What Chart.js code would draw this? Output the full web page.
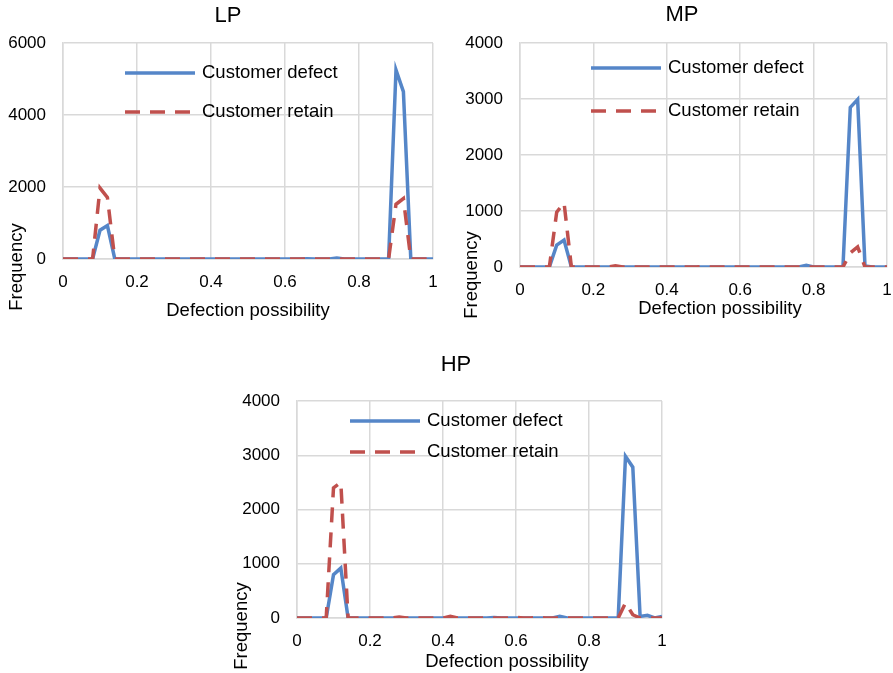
<!DOCTYPE html>
<html>
<head>
<meta charset="utf-8">
<script src="https://cdn.jsdelivr.net/npm/chart.js@4/dist/chart.umd.min.js"></script>
<style>
  body { margin: 0; background: #fff; }
  #wrap { position: relative; width: 893px; height: 673px; }
  canvas { position: absolute; }
</style>
</head>
<body>
<div id="wrap">
  <canvas id="lp" width="450" height="330" style="left:0;top:0"></canvas>
  <canvas id="mp" width="443" height="330" style="left:450px;top:0"></canvas>
  <canvas id="hp" width="450" height="328" style="left:220px;top:345px"></canvas>
</div>
<script>
// defection possibility, step 0.02
var possibility = [0, 0.02, 0.04, 0.06, 0.08, 0.1, 0.12, 0.14, 0.16, 0.18,
  0.2, 0.22, 0.24, 0.26, 0.28, 0.3, 0.32, 0.34, 0.36, 0.38,
  0.4, 0.42, 0.44, 0.46, 0.48, 0.5, 0.52, 0.54, 0.56, 0.58,
  0.6, 0.62, 0.64, 0.66, 0.68, 0.7, 0.72, 0.74, 0.76, 0.78,
  0.8, 0.82, 0.84, 0.86, 0.88, 0.9, 0.92, 0.94, 0.96, 0.98, 1];

var seriesNames = ['Customer defect', 'Customer retain'];

var lpDefect = [0, 0, 0, 0, 0, 800, 930, 0, 0, 0,
  0, 0, 0, 0, 0, 0, 0, 0, 0, 0,
  0, 0, 0, 0, 0, 0, 0, 0, 0, 0,
  0, 0, 0, 10, 0, 0, 0, 30, 0, 0,
  0, 0, 0, 0, 0, 5250, 4650, 0, 0, 0, 0];
var lpRetain = [0, 0, 0, 0, 0, 1970, 1710, 0, 0, 0,
  0, 0, 0, 0, 0, 0, 0, 0, 0, 0,
  0, 0, 0, 0, 0, 0, 0, 0, 0, 0,
  0, 0, 0, 0, 0, 0, 0, 0, 0, 0,
  0, 0, 0, 0, 0, 1520, 1680, 0, 0, 0, 0];

var mpDefect = [0, 0, 0, 0, 0, 390, 480, 0, 0, 0,
  0, 0, 0, 0, 0, 0, 0, 0, 0, 0,
  0, 0, 0, 0, 0, 0, 0, 0, 0, 0,
  0, 0, 0, 0, 0, 0, 0, 0, 0, 30,
  0, 0, 0, 0, 0, 2850, 2990, 20, 0, 0, 0];
var mpRetain = [0, 0, 0, 0, 0, 980, 1150, 0, 0, 0,
  0, 0, 0, 20, 0, 0, 0, 0, 0, 0,
  0, 0, 0, 0, 0, 10, 0, 0, 0, 0,
  0, 0, 0, 0, 0, 0, 0, 0, 0, 0,
  0, 0, 0, 0, 0, 250, 360, 0, 0, 0, 0];

var hpDefect = [0, 0, 0, 0, 0, 800, 920, 0, 0, 0,
  0, 0, 0, 0, 0, 0, 0, 0, 0, 0,
  0, 0, 0, 0, 0, 0, 0, 10, 0, 0,
  0, 0, 0, 0, 0, 0, 30, 0, 0, 0,
  0, 0, 0, 0, 0, 2980, 2780, 30, 50, 0, 30];
var hpRetain = [0, 0, 0, 0, 0, 2400, 2500, 0, 0, 0,
  0, 0, 0, 0, 20, 0, 0, 0, 0, 0,
  0, 30, 0, 0, 0, 0, 0, 0, 0, 0,
  10, 0, 0, 10, 0, 0, 0, 0, 0, 0,
  0, 0, 0, 0, 0, 280, 60, 0, 0, 0, 0];

var FONT = 'Arial, "Liberation Sans", sans-serif';
var BLUE = '#5586c8';
var RED = '#c0504d';
var GRID = '#d9d9d9';
var DASH = [15, 10];

function points(ys) {
  return possibility.map(function (x, i) { return { x: x, y: ys[i] }; });
}

// title, axis titles and the in-plot legend, placed like the Excel original
var overlay = {
  id: 'overlay',
  afterDraw: function (chart, args, o) {
    var ctx = chart.ctx;
    ctx.save();
    ctx.fillStyle = '#000';
    ctx.textAlign = 'center';
    ctx.textBaseline = 'middle';
    ctx.font = '22px ' + FONT;
    ctx.fillText(o.title, o.titleX, o.titleY);
    ctx.font = '18.5px ' + FONT;
    ctx.fillText('Defection possibility', o.xTitleX, o.xTitleY);
    ctx.save();
    ctx.translate(o.yTitleX, o.yTitleY);
    ctx.rotate(-Math.PI / 2);
    ctx.fillText('Frequency', 0, 0);
    ctx.restore();

    ctx.textAlign = 'left';
    ctx.lineWidth = 3.5;
    ctx.lineCap = 'butt';
    [[BLUE, [], o.legY1], [RED, DASH, o.legY2]].forEach(function (row, i) {
      ctx.strokeStyle = row[0];
      ctx.setLineDash(row[1]);
      ctx.beginPath();
      ctx.moveTo(o.legX, row[2]);
      ctx.lineTo(o.legX + 70, row[2]);
      ctx.stroke();
      ctx.fillText(seriesNames[i], o.legX + 77, row[2]);
    });
    ctx.restore();
  }
};

function makeChart(id, defect, retain, yMax, yStep, box, labels) {
  var canvas = document.getElementById(id);
  new Chart(canvas.getContext('2d'), {
    type: 'line',
    data: {
      datasets: [{
        label: seriesNames[0],
        data: points(defect),
        borderColor: BLUE,
        borderWidth: 3.5,
        pointRadius: 0,
        order: 1
      }, {
        label: seriesNames[1],
        data: points(retain),
        borderColor: RED,
        borderWidth: 3.5,
        borderDash: DASH,
        pointRadius: 0,
        order: 0
      }]
    },
    plugins: [overlay],
    options: {
      responsive: false,
      animation: false,
      layout: {
        padding: { left: 0, top: box.top, right: canvas.width - box.right, bottom: 0 }
      },
      plugins: {
        legend: { display: false },
        tooltip: { enabled: false },
        overlay: labels
      },
      scales: {
        x: {
          type: 'linear',
          min: 0,
          max: 1,
          afterFit: function (s) {
            s.height = canvas.height - box.bottom;
            s.paddingLeft = 0;
            s.paddingRight = 0;
          },
          ticks: {
            stepSize: 0.2,
            padding: 13,
            color: '#000',
            font: { family: FONT, size: 17 },
            maxRotation: 0,
            callback: function (v) { return String(Math.round(v * 10) / 10); }
          },
          grid: { color: GRID, lineWidth: 1.5, drawTicks: false },
          border: { color: GRID, width: 1.5 }
        },
        y: {
          min: 0,
          max: yMax,
          afterFit: function (s) {
            s.width = box.left;
            s.paddingTop = 0;
            s.paddingBottom = 0;
          },
          ticks: {
            stepSize: yStep,
            padding: 17,
            color: '#000',
            font: { family: FONT, size: 17 },
            callback: function (v) { return String(v); }
          },
          grid: { color: GRID, lineWidth: 1.5, drawTicks: false },
          border: { color: GRID, width: 1.5 }
        }
      }
    }
  });
}

makeChart('lp', lpDefect, lpRetain, 6000, 2000,
  { left: 63, top: 43, right: 433, bottom: 259 },
  { title: 'LP', titleX: 228, titleY: 16, xTitleX: 248, xTitleY: 311,
    yTitleX: 17, yTitleY: 267, legX: 125, legY1: 73, legY2: 112 });

makeChart('mp', mpDefect, mpRetain, 4000, 1000,
  { left: 70, top: 43, right: 437, bottom: 267 },
  { title: 'MP', titleX: 232, titleY: 15, xTitleX: 270, xTitleY: 309,
    yTitleX: 22, yTitleY: 275, legX: 141, legY1: 68, legY2: 111 });

makeChart('hp', hpDefect, hpRetain, 4000, 1000,
  { left: 77, top: 56, right: 442, bottom: 273 },
  { title: 'HP', titleX: 236, titleY: 20, xTitleX: 287, xTitleY: 317,
    yTitleX: 22, yTitleY: 281, legX: 130, legY1: 76, legY2: 107 });
</script>
</body>
</html>
